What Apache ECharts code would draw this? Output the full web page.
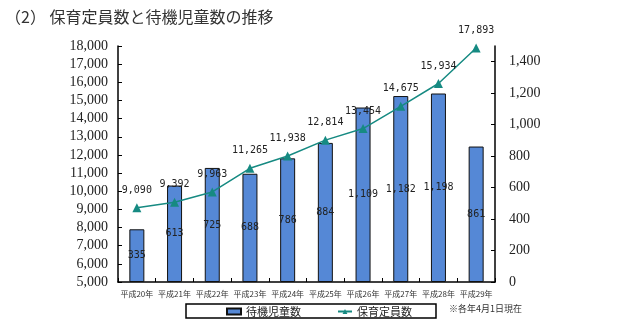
<!DOCTYPE html>
<html><head><meta charset="utf-8">
<script src="https://cdn.jsdelivr.net/npm/echarts@6/dist/echarts.min.js"></script>
<style>html,body{margin:0;padding:0;background:#fff}#c{width:640px;height:328px}</style>
</head><body><div id="c"></div>
<script>
const categories = ['平成20年','平成21年','平成22年','平成23年','平成24年','平成25年','平成26年','平成27年','平成28年','平成29年'];
const waiting = [335, 613, 725, 688, 786, 884, 1109, 1182, 1198, 861];
const capacity = [9090, 9392, 9963, 11265, 11938, 12814, 13454, 14675, 15934, 17893];
const titleText = '（2） 保育定員数と待機児童数の推移';
const noteText = '※各年4月1日現在';

const serif = '"Liberation Serif", "DejaVu Serif", serif';
const cjk = '"Noto Sans CJK JP", sans-serif';
const mono = '"DejaVu Sans Mono", monospace';
const fmt = v => v.toLocaleString('en-US');

const chart = echarts.init(document.getElementById('c'), null, {renderer: 'canvas'});
chart.setOption({
  animation: false,
  backgroundColor: '#fff',
  title: {text: titleText, left: 0, top: 4, textStyle: {fontFamily: cjk, fontSize: 16, fontWeight: 'normal', color: '#333'}},
  graphic: [{type: 'text', left: 449, top: 304, style: {text: noteText, font: '9px "Noto Sans CJK JP"', fill: '#333'}}],
  legend: {
    left: 186, top: 304, orient: 'horizontal',
    padding: [1, 24, 0, 40], itemGap: 36,
    borderColor: '#000', borderWidth: 1.5,
    itemWidth: 14, itemHeight: 6,
    textStyle: {fontFamily: cjk, fontSize: 11, color: '#222', lineHeight: 13},
    data: [{name: '待機児童数', icon: 'rect'}, {name: '保育定員数'}]
  },
  grid: {left: 118, right: 145, top: 46, bottom: 46},
  xAxis: {
    type: 'category', data: categories,
    axisLine: {lineStyle: {color: '#000', width: 1.5}},
    axisTick: {show: true, inside: true, length: 4, lineStyle: {color: '#000'}},
    axisLabel: {fontFamily: cjk, fontSize: 8, color: '#333', margin: 8, interval: 0}
  },
  yAxis: [
    {type: 'value', min: 5000, max: 18000, interval: 1000,
     axisLine: {show: true, lineStyle: {color: '#000', width: 1.5}},
     axisTick: {show: true, inside: true, length: 4, lineStyle: {color: '#000'}},
     splitLine: {show: false},
     axisLabel: {fontFamily: serif, fontSize: 14, color: '#222', formatter: v => fmt(v), margin: 10}},
    {type: 'value', min: 0, max: 1500, interval: 200, position: 'right',
     axisLine: {show: true, lineStyle: {color: '#000', width: 1.5}},
     axisTick: {show: true, inside: true, length: 4, lineStyle: {color: '#000'}},
     splitLine: {show: false},
     axisLabel: {fontFamily: serif, fontSize: 14, color: '#222', showMaxLabel: false, formatter: v => v > 1400 ? '' : fmt(v), margin: 14}}
  ],
  series: [
    {name: '待機児童数', type: 'bar', yAxisIndex: 1, data: waiting, barWidth: 15,
     itemStyle: {color: '#5588D6', borderColor: '#111', borderWidth: 1},
     label: {show: true, position: 'inside', fontFamily: mono, fontSize: 10, color: '#222', formatter: p => fmt(p.value)}},
    {name: '保育定員数', type: 'line', yAxisIndex: 0, data: capacity,
     symbol: 'triangle', symbolSize: 9,
     lineStyle: {color: '#168A82', width: 1.5},
     itemStyle: {color: '#168A82'},
     label: {show: true, position: 'top', distance: 8, fontFamily: mono, fontSize: 10, color: '#222', formatter: p => fmt(p.value)}}
  ]
});
</script>
</body></html>
